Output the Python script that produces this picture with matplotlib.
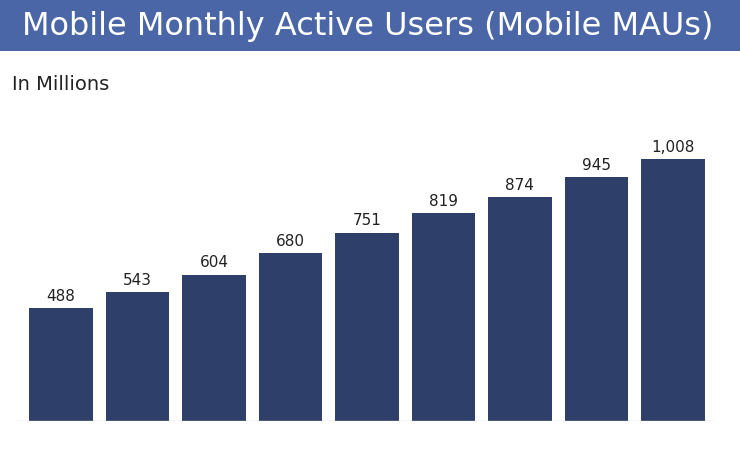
import matplotlib
matplotlib.use("Agg")
import matplotlib.pyplot as plt
from matplotlib.patches import Rectangle

quarters = ["Q1", "Q2", "Q3", "Q4", "Q5", "Q6", "Q7", "Q8", "Q9"]
mobile_maus = [488, 543, 604, 680, 751, 819, 874, 945, 1008]
value_labels = ["488", "543", "604", "680", "751", "819", "874", "945", "1,008"]

W, H = 740, 452
fig = plt.figure(figsize=(W / 100, H / 100), dpi=100)
fig.patch.set_facecolor("white")

# title bar
fig.patches.append(Rectangle((0, 1 - 52 / H), 1, 52 / H, transform=fig.transFigure,
                             facecolor="#4b66a6", edgecolor="none", zorder=0))
fig.text(368 / W, 1 - 27 / H, "Mobile Monthly Active Users (Mobile MAUs)",
         ha="center", va="center", color="white", fontsize=23)
fig.text(12 / W, 1 - 85 / H, "In Millions", ha="left", va="center",
         color="#222222", fontsize=14)

ax = fig.add_axes([15 / W, 1 - 422 / H, 700 / W, 282 / H])
x = list(range(len(quarters)))
ax.bar(x, mobile_maus, width=0.83, color="#2e4069", bottom=0)
for xi, v, lab in zip(x, mobile_maus, value_labels):
    ax.annotate(lab, (xi, v), textcoords="offset points", xytext=(0, 4),
                ha="center", va="bottom", fontsize=11, color="#222222")
ax.set_xlim(-0.6, len(quarters) - 0.45)
ax.set_ylim(94, 1078)
ax.axis("off")
ax.axhline(94, color="#d0d0d0", linewidth=1)

fig.savefig("out.png", dpi=100)
